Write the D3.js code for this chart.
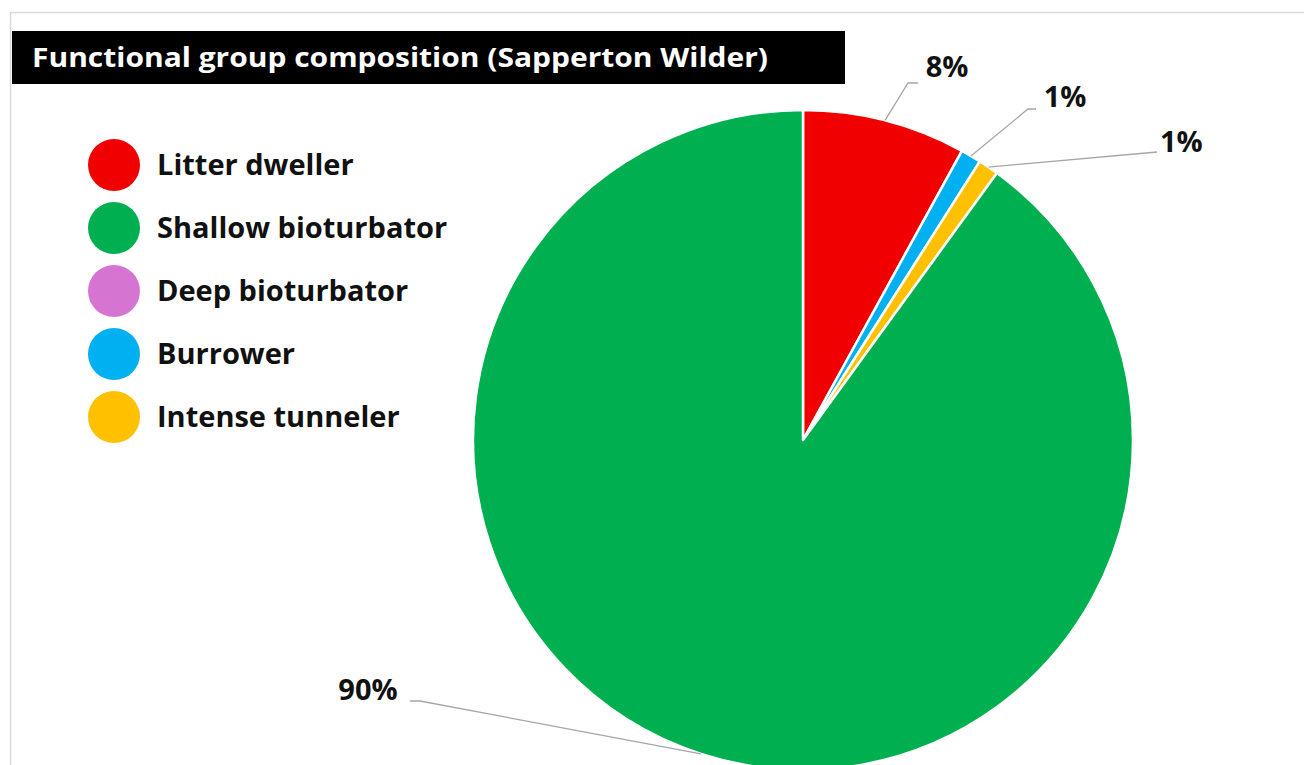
<!DOCTYPE html>
<html>
<head>
<meta charset="utf-8">
<script src="https://cdn.jsdelivr.net/npm/d3@7"></script>
<style>
  html, body { margin: 0; padding: 0; background: #ffffff; }
  svg { display: block; font-family: "Open Sans", "Noto Sans", sans-serif; }
</style>
</head>
<body>
<svg id="chart" width="1304" height="765"></svg>
<script>
// Functional group shares (percent)
const groups = ["Litter dweller", "Shallow bioturbator", "Deep bioturbator", "Burrower", "Intense tunneler"];
const colors = ["#f00000", "#00b050", "#d575d1", "#00b0f0", "#ffc000"];
// Order in which the slices are drawn clockwise from 12 o'clock
const sliceOrder = ["Litter dweller", "Burrower", "Intense tunneler", "Shallow bioturbator", "Deep bioturbator"];
const shares = [8, 1, 1, 90, 0];
const labels = ["8%", "1%", "1%", "90%", ""];
const titleText = "Functional group composition (Sapperton Wilder)";

const svg = d3.select("#chart");
const W = 1304, H = 765;

// Frame
svg.append("path")
  .attr("d", `M10.5,${H} V12.5 H${W}`)
  .attr("fill", "none")
  .attr("stroke", "#d9d9d9")
  .attr("stroke-width", 1.5);

// Title band
svg.append("rect")
  .attr("x", 12).attr("y", 31).attr("width", 833).attr("height", 53)
  .attr("fill", "#000");
svg.append("text")
  .attr("x", 32).attr("y", 67)
  .attr("fill", "#fff")
  .attr("font-weight", 700)
  .attr("font-size", 26)
  .attr("textLength", 736)
  .attr("lengthAdjust", "spacingAndGlyphs")
  .text(titleText);

// Legend
const color = d3.scaleOrdinal().domain(groups).range(colors);
const legendY = d3.scalePoint().domain(groups).range([165, 417]);
const legend = svg.append("g");
groups.forEach(g => {
  legend.append("circle")
    .attr("cx", 114).attr("cy", legendY(g)).attr("r", 26)
    .attr("fill", color(g));
  legend.append("text")
    .attr("x", 157).attr("y", legendY(g))
    .attr("dy", "0.36em")
    .attr("font-weight", 700)
    .attr("font-size", 29)
    .attr("fill", "#111")
    .text(g);
});

// Pie
const cx = 803, cy = 440, R = 330;
const data = sliceOrder.map((name, i) => ({ name, value: shares[i], label: labels[i] }));
const pie = d3.pie().value(d => d.value).sort(null);
const arcs = pie(data);
const arc = d3.arc().innerRadius(0).outerRadius(R);

const g = svg.append("g").attr("transform", `translate(${cx},${cy})`);
g.selectAll("path.slice")
  .data(arcs.filter(a => a.data.value > 0))
  .join("path")
  .attr("class", "slice")
  .attr("d", arc)
  .attr("fill", d => color(d.data.name))
  .attr("stroke", "#fff")
  .attr("stroke-width", 2.5)
  .attr("stroke-linejoin", "round");

// Data labels with leader lines: elbow and text placement per slice
const labelLayout = {
  "Litter dweller":      { elbow: [105, -357], end: [115, -357], text: [144, -373], anchor: "middle" },
  "Burrower":            { elbow: [225, -331], end: [233, -331], text: [262, -343], anchor: "middle" },
  "Intense tunneler":    { elbow: [354, -288], end: [354, -288], text: [357, -298], anchor: "start" },
  "Shallow bioturbator": { elbow: [-383, 261], end: [-393, 261], text: [-435, 250], anchor: "middle" }
};

arcs.filter(a => a.data.value > 0).forEach(a => {
  const L = labelLayout[a.data.name];
  const mid = (a.startAngle + a.endAngle) / 2;
  const p0 = [Math.sin(mid) * R, -Math.cos(mid) * R];
  g.append("polyline")
    .attr("points", [p0, L.elbow, L.end].map(p => p.join(",")).join(" "))
    .attr("fill", "none")
    .attr("stroke", "#a6a6a6")
    .attr("stroke-width", 1.3);
  g.append("text")
    .attr("x", L.text[0]).attr("y", L.text[1])
    .attr("dy", "0.36em")
    .attr("text-anchor", L.anchor)
    .attr("font-weight", 700)
    .attr("font-size", 29)
    .attr("fill", "#111")
    .text(a.data.label);
});
</script>
</body>
</html>
